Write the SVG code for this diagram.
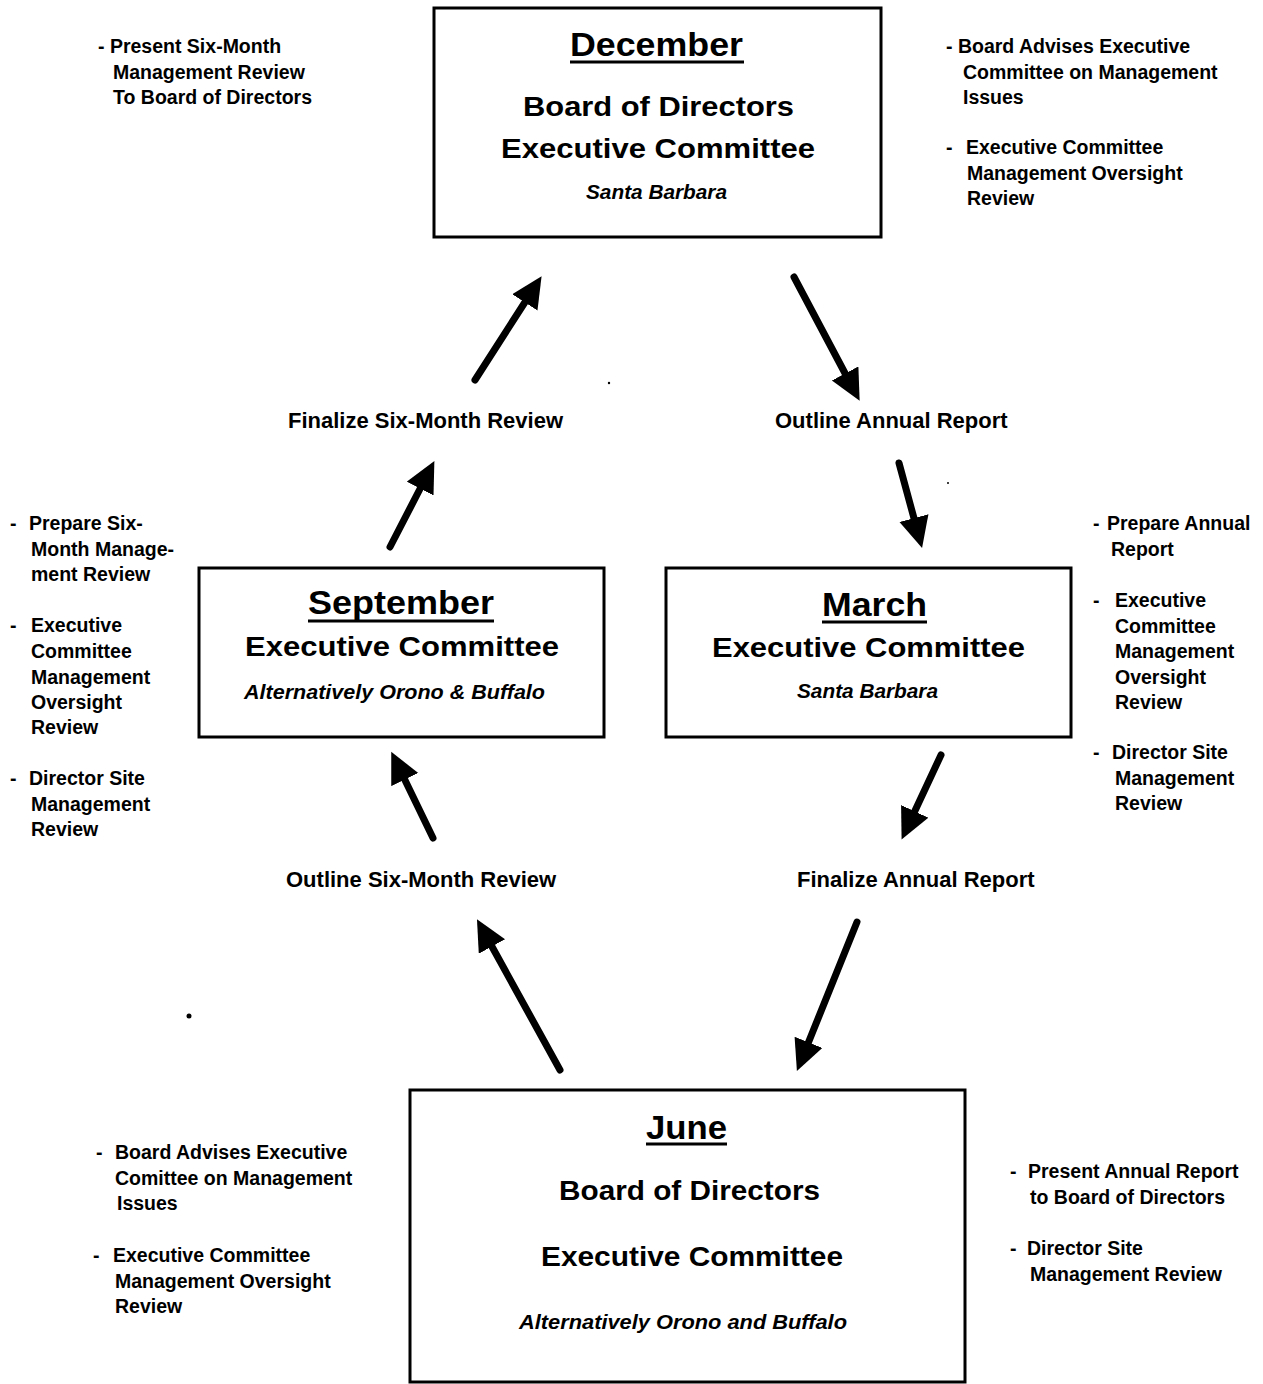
<svg xmlns="http://www.w3.org/2000/svg" width="1263" height="1384" viewBox="0 0 1263 1384">
<style>
text{font-family:"Liberation Sans",Arial,sans-serif;fill:#000}
.box{fill:#fff;stroke:#000;stroke-width:3}
.ttl{font-size:33px;font-weight:bold}
.hd{font-size:28px;font-weight:bold}
.loc{font-size:20px;font-weight:bold;font-style:italic}
.ul{stroke:#000;stroke-width:3}
.note{font-size:19.5px;font-weight:bold}
.mid{font-size:22px;font-weight:bold}
.arr{stroke:#000;stroke-width:7;stroke-linecap:round;fill:none;marker-end:url(#ah)}
</style>
<defs>
<marker id="ah" markerUnits="userSpaceOnUse" markerWidth="32" markerHeight="32" refX="4" refY="15" orient="auto">
<path d="M0,0 L31,15 L0,30 Z" fill="#000"/>
</marker>
</defs>
<rect width="1263" height="1384" fill="#fff"/>

<g id="december">
<rect class="box" x="434" y="8" width="447" height="229"/>
<text class="ttl" x="570" y="56" textLength="173" lengthAdjust="spacingAndGlyphs">December</text>
<line class="ul" x1="570" y1="62" x2="744" y2="62"/>
<text class="hd" x="523" y="116" textLength="271" lengthAdjust="spacingAndGlyphs">Board  of  Directors</text>
<text class="hd" x="501" y="158" textLength="314" lengthAdjust="spacingAndGlyphs">Executive  Committee</text>
<text class="loc" x="586" y="199" textLength="141" lengthAdjust="spacingAndGlyphs">Santa Barbara</text>
</g>

<g id="september">
<rect class="box" x="199" y="568" width="405" height="169"/>
<text class="ttl" x="308" y="614" textLength="186" lengthAdjust="spacingAndGlyphs">September</text>
<line class="ul" x1="308" y1="621" x2="494" y2="621"/>
<text class="hd" x="245" y="656" textLength="314" lengthAdjust="spacingAndGlyphs">Executive  Committee</text>
<text class="loc" x="244" y="699" textLength="301" lengthAdjust="spacingAndGlyphs">Alternatively Orono &amp; Buffalo</text>
</g>

<g id="march">
<rect class="box" x="666" y="568" width="405" height="169"/>
<text class="ttl" x="822" y="616" textLength="105" lengthAdjust="spacingAndGlyphs">March</text>
<line class="ul" x1="822" y1="622" x2="927" y2="622"/>
<text class="hd" x="712" y="657" textLength="313" lengthAdjust="spacingAndGlyphs">Executive  Committee</text>
<text class="loc" x="797" y="698" textLength="141" lengthAdjust="spacingAndGlyphs">Santa Barbara</text>
</g>

<g id="june">
<rect class="box" x="410" y="1090" width="555" height="292"/>
<text class="ttl" x="646" y="1139" textLength="81" lengthAdjust="spacingAndGlyphs">June</text>
<line class="ul" x1="646" y1="1144" x2="727" y2="1144"/>
<text class="hd" x="559" y="1200" textLength="261" lengthAdjust="spacingAndGlyphs">Board  of  Directors</text>
<text class="hd" x="541" y="1266" textLength="302" lengthAdjust="spacingAndGlyphs">Executive  Committee</text>
<text class="loc" x="519" y="1329" textLength="328" lengthAdjust="spacingAndGlyphs">Alternatively  Orono and Buffalo</text>
</g>

<g id="step-labels">
<text class="mid" x="288" y="428">Finalize Six-Month Review</text>
<text class="mid" x="775" y="428">Outline Annual Report</text>
<text class="mid" x="286" y="887">Outline Six-Month Review</text>
<text class="mid" x="797" y="887">Finalize Annual Report</text>
</g>

<g id="notes-december-left">
<text class="note" x="98" y="53">- Present Six-Month</text>
<text class="note" x="113" y="79">Management Review</text>
<text class="note" x="113" y="104">To Board of Directors</text>
</g>

<g id="notes-december-right">
<text class="note" x="946" y="53">- Board Advises Executive</text>
<text class="note" x="963" y="79">Committee on Management</text>
<text class="note" x="963" y="104">Issues</text>
<text class="note" x="946" y="154">-<tspan x="966">Executive Committee</tspan></text>
<text class="note" x="967" y="180">Management Oversight</text>
<text class="note" x="967" y="205">Review</text>
</g>

<g id="notes-september">
<text class="note" x="10" y="530">-<tspan x="29">Prepare Six-</tspan></text>
<text class="note" x="31" y="556">Month Manage-</text>
<text class="note" x="31" y="581">ment Review</text>
<text class="note" x="10" y="632">-<tspan x="31">Executive</tspan></text>
<text class="note" x="31" y="658">Committee</text>
<text class="note" x="31" y="684">Management</text>
<text class="note" x="31" y="709">Oversight</text>
<text class="note" x="31" y="734">Review</text>
<text class="note" x="10" y="785">-<tspan x="29">Director Site</tspan></text>
<text class="note" x="31" y="811">Management</text>
<text class="note" x="31" y="836">Review</text>
</g>

<g id="notes-march">
<text class="note" x="1093" y="530">-<tspan x="1107">Prepare Annual</tspan></text>
<text class="note" x="1111" y="556">Report</text>
<text class="note" x="1093" y="607">-<tspan x="1115">Executive</tspan></text>
<text class="note" x="1115" y="633">Committee</text>
<text class="note" x="1115" y="658">Management</text>
<text class="note" x="1115" y="684">Oversight</text>
<text class="note" x="1115" y="709">Review</text>
<text class="note" x="1093" y="759">-<tspan x="1112">Director Site</tspan></text>
<text class="note" x="1115" y="785">Management</text>
<text class="note" x="1115" y="810">Review</text>
</g>

<g id="notes-june-left">
<text class="note" x="96" y="1159">-<tspan x="115">Board Advises Executive</tspan></text>
<text class="note" x="115" y="1185">Comittee on Management</text>
<text class="note" x="117" y="1210">Issues</text>
<text class="note" x="93" y="1262">-<tspan x="113">Executive Committee</tspan></text>
<text class="note" x="115" y="1288">Management Oversight</text>
<text class="note" x="115" y="1313">Review</text>
</g>

<g id="notes-june-right">
<text class="note" x="1010" y="1178">-<tspan x="1028">Present Annual Report</tspan></text>
<text class="note" x="1030" y="1204">to Board of Directors</text>
<text class="note" x="1010" y="1255">-<tspan x="1027">Director Site</tspan></text>
<text class="note" x="1030" y="1281">Management  Review</text>
</g>

<g id="connectors">
<line class="arr" x1="475" y1="380" x2="527" y2="299"/>
<line class="arr" x1="794" y1="277" x2="847" y2="377"/>
<line class="arr" x1="390" y1="547" x2="422" y2="485"/>
<line class="arr" x1="899" y1="463" x2="915" y2="522"/>
<line class="arr" x1="941" y1="755" x2="913" y2="815"/>
<line class="arr" x1="857" y1="922" x2="807" y2="1046"/>
<line class="arr" x1="560" y1="1070" x2="490" y2="943"/>
<line class="arr" x1="433" y1="838" x2="403" y2="776"/>
</g>

<g id="specks">
<circle cx="189" cy="1016" r="2.5" fill="#000"/>
<circle cx="609" cy="383" r="1.2" fill="#000"/>
<circle cx="948" cy="483" r="1" fill="#000"/>
</g>
</svg>
